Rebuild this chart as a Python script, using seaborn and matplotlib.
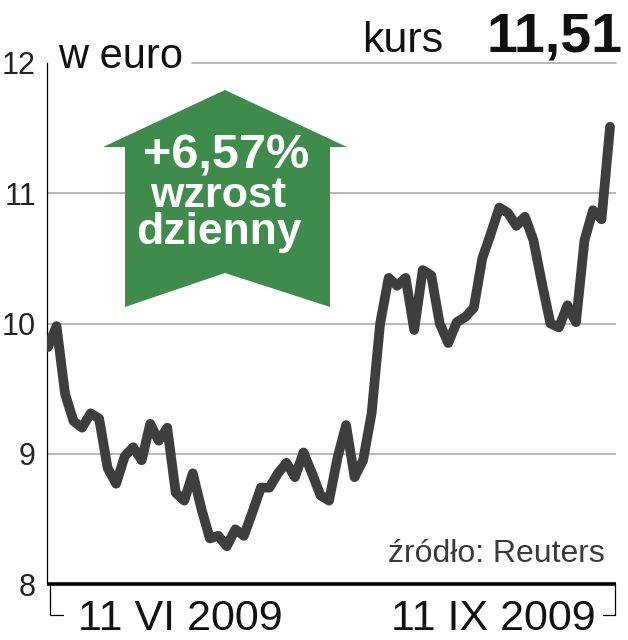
import matplotlib.pyplot as plt
import seaborn as sns
import numpy as np
import pandas as pd
from matplotlib.patches import Polygon
from matplotlib.lines import Line2D

# notowania dzienne, 11 VI - 11 IX 2009 (sesje)
dates = pd.bdate_range('2009-06-11', '2009-09-11')
kurs = [9.82, 9.98, 9.46, 9.25, 9.20, 9.31, 9.27, 8.89, 8.77, 8.98,
        9.05, 8.95, 9.23, 9.10, 9.20, 8.70, 8.64, 8.85, 8.58, 8.35,
        8.37, 8.29, 8.42, 8.37, 8.55, 8.74, 8.74, 8.85, 8.93, 8.82,
        9.01, 8.85, 8.68, 8.64, 8.97, 9.22, 8.82, 8.95, 9.31, 10.00,
        10.35, 10.29, 10.35, 9.95, 10.41, 10.37, 10.00, 9.85, 10.01, 10.05,
        10.12, 10.50, 10.69, 10.89, 10.85, 10.75, 10.82, 10.64, 10.31, 10.00,
        9.97, 10.14, 10.01, 10.64, 10.87, 10.80, 11.51]
yticks = [8, 9, 10, 11, 12]
roman = ['I', 'II', 'III', 'IV', 'V', 'VI', 'VII', 'VIII', 'IX', 'X', 'XI', 'XII']

W, H = 628, 640


def fx(x):
    return x / W


def fy(y):
    return 1 - y / H


def date_label(d):
    return f"{d.day} {roman[d.month - 1]} {d.year}"


sns.set_style('white')
plt.rcParams['font.family'] = ['Liberation Sans', 'DejaVu Sans']

fig = plt.figure(figsize=(W / 100, H / 100), dpi=100)
ax = fig.add_axes([fx(47), fy(584), (616 - 47) / W, (584 - 63) / H])

df = pd.DataFrame({'day': np.arange(len(kurs)), 'kurs': kurs})
sns.lineplot(data=df, x='day', y='kurs', ax=ax, color='#3e3e3e', linewidth=7,
             solid_joinstyle='round', solid_capstyle='round', zorder=4)

# linie siatki
for v in yticks[1:-1]:
    ax.axhline(v, color='#aaaaaa', lw=1.2, zorder=1)
ax.axhline(yticks[-1], xmin=(192 - 47) / 569, color='#aaaaaa', lw=1.2, zorder=1, clip_on=False)

ax.set_xlim(-0.12, len(kurs) - 1 + 0.7)
ax.set_ylim(yticks[0], yticks[-1])
ax.set_xticks([])
ax.set_yticks(yticks)
ax.set_yticklabels([str(t) for t in yticks], fontsize=22, color='#222222')
ax.tick_params(axis='y', length=0, pad=8)
ax.set_xlabel('')
ax.set_ylabel('')
sns.despine(ax=ax)
ax.spines['left'].set(lw=0.9, color='black')
ax.spines['bottom'].set(lw=2.6, color='black', capstyle='butt')

# strzalka
arrow_px = [(225, 90), (347, 147), (330, 147), (330, 307), (225, 273),
            (125, 307), (125, 147), (103, 147)]
fig.add_artist(Polygon([(fx(x), fy(y)) for x, y in arrow_px], closed=True,
                       transform=fig.transFigure, facecolor='#3f8b4c',
                       edgecolor='none', zorder=3))
change = (kurs[-1] / kurs[-2] - 1) * 100
fig.text(fx(226), fy(169), f"+{change:.2f}%".replace('.', ','), color='white',
         fontsize=35, fontweight='bold', ha='center', va='baseline', zorder=5)
fig.text(fx(218), fy(207), 'wzrost', color='white', fontsize=31,
         fontweight='bold', ha='center', va='baseline', zorder=5)
fig.text(fx(219), fy(244), 'dzienny', color='white', fontsize=32,
         fontweight='bold', ha='center', va='baseline', zorder=5)

# naglowki
fig.text(fx(58), fy(68), 'w euro', fontsize=30, color='#111111', va='baseline')
fig.text(fx(362), fy(52), 'kurs', fontsize=31, color='#111111', va='baseline')
fig.text(fx(622), fy(52), f"{kurs[-1]:.2f}".replace('.', ','), fontsize=40,
         fontweight='bold', color='#111111', ha='right', va='baseline')
fig.text(fx(605), fy(562), 'źródło: Reuters', fontsize=23, color='#3a3a3a',
         ha='right', va='baseline')

# daty i nawiasy
fig.text(fx(78), fy(630), date_label(dates[0]), fontsize=31, color='#111111',
         ha='left', va='baseline')
fig.text(fx(596), fy(630), date_label(dates[-1]), fontsize=31, color='#111111',
         ha='right', va='baseline')
fig.add_artist(Line2D([fx(50), fx(50), fx(63)], [fy(584), fy(615), fy(615)],
                      transform=fig.transFigure, color='black', lw=0.9))
fig.add_artist(Line2D([fx(615), fx(615), fx(603)], [fy(584), fy(615), fy(615)],
                      transform=fig.transFigure, color='black', lw=0.9))

fig.savefig('out.png', dpi=100)
